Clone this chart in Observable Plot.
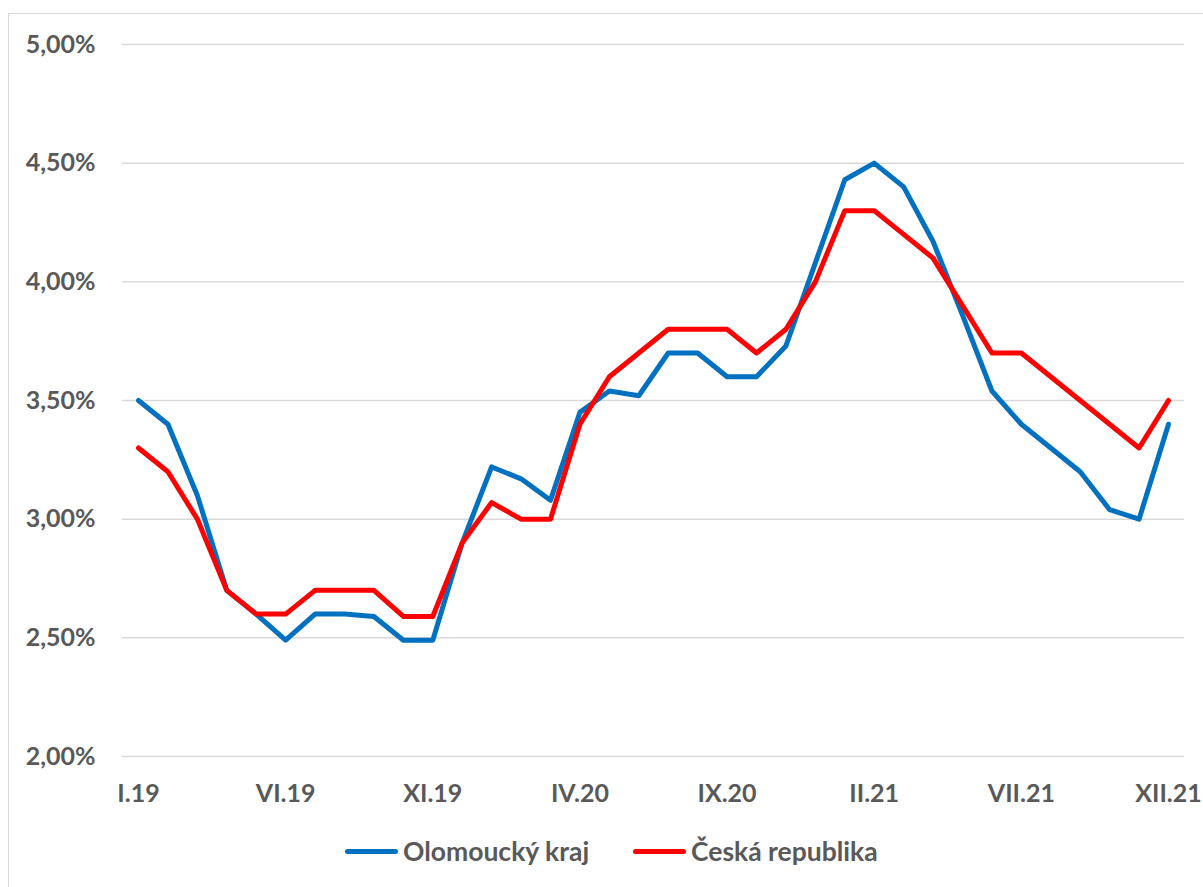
<!DOCTYPE html>
<html>
<head>
<meta charset="utf-8">
<script src="https://cdn.jsdelivr.net/npm/d3@7"></script>
<script src="https://cdn.jsdelivr.net/npm/@observablehq/plot@0.6"></script>
<style>
  html, body { margin: 0; padding: 0; background: #fff; }
  #wrap { position: relative; width: 1203px; height: 887px; overflow: hidden; font-family: Lato, "DejaVu Sans", sans-serif; }
  #frame { position: absolute; left: 8px; top: 13px; width: 1300px; height: 1000px; border-left: 1.5px solid #d9d9d9; border-top: 1.5px solid #d9d9d9; box-sizing: border-box; }
  #chart { position: absolute; left: 0; top: 0; }
  #legend { position: absolute; left: 0; top: 826px; width: 1203px; height: 50px; color: #595959; font-weight: bold; font-size: 26.5px; }
  .item { position: absolute; top: 0; height: 50px; display: flex; align-items: center; }
  .swatch { display: inline-block; width: 53px; height: 5px; border-radius: 3px; margin-right: 5px; }
</style>
</head>
<body>
<div id="wrap">
  <div id="frame"></div>
  <div id="chart"></div>
  <div id="legend"></div>
</div>
<script>
const months = [
  "I.19","II.19","III.19","IV.19","V.19","VI.19","VII.19","VIII.19","IX.19","X.19","XI.19","XII.19",
  "I.20","II.20","III.20","IV.20","V.20","VI.20","VII.20","VIII.20","IX.20","X.20","XI.20","XII.20",
  "I.21","II.21","III.21","IV.21","V.21","VI.21","VII.21","VIII.21","IX.21","X.21","XI.21","XII.21"
];
const olomoucky = [
  3.50,3.40,3.10,2.70,2.60,2.49,2.60,2.60,2.59,2.49,2.49,2.90,
  3.22,3.17,3.08,3.45,3.54,3.52,3.70,3.70,3.60,3.60,3.73,4.08,
  4.43,4.50,4.40,4.17,3.86,3.54,3.40,3.30,3.20,3.04,3.00,3.40
];
const ceska = [
  3.30,3.20,3.00,2.70,2.60,2.60,2.70,2.70,2.70,2.59,2.59,2.90,
  3.07,3.00,3.00,3.40,3.60,3.70,3.80,3.80,3.80,3.70,3.80,4.00,
  4.30,4.30,4.20,4.10,3.90,3.70,3.70,3.60,3.50,3.40,3.30,3.50
];
const seriesNames = ["Olomoucký kraj", "Česká republika"];
const seriesColors = ["#0070C0", "#FF0000"];
const xTicks = ["I.19","VI.19","XI.19","IV.20","IX.20","II.21","VII.21","XII.21"];
const yTicks = [2.0, 2.5, 3.0, 3.5, 4.0, 4.5, 5.0];

const data = [];
months.forEach((m, i) => data.push({month: m, value: olomoucky[i], series: seriesNames[0]}));
months.forEach((m, i) => data.push({month: m, value: ceska[i], series: seriesNames[1]}));

const fmt = d => d.toFixed(2).replace(".", ",") + "%";

const chart = Plot.plot({
  width: 1203,
  height: 820,
  marginLeft: 122,
  marginRight: 19,
  marginTop: 44,
  marginBottom: 64,
  insetLeft: 16,
  insetRight: 16,
  style: {fontFamily: "Lato, sans-serif", fontSize: "25px", fontWeight: "bold", color: "#595959", background: "transparent", overflow: "visible"},
  x: {type: "point", domain: months, padding: 0, round: false},
  y: {domain: [2, 5]},
  color: {domain: seriesNames, range: seriesColors},
  marks: [
    Plot.gridY(yTicks, {stroke: "#d9d9d9", strokeOpacity: 1, strokeWidth: 1.5}),
    Plot.axisY(yTicks, {tickSize: 0, tickPadding: 27, tickFormat: fmt, label: null}),
    Plot.axisX(xTicks, {tickSize: 0, tickPadding: 28, label: null}),
    Plot.line(data, {x: "month", y: "value", z: "series", stroke: "series", strokeWidth: 5, strokeLinejoin: "round", strokeLinecap: "round"})
  ]
});
document.getElementById("chart").appendChild(chart);

const legend = document.getElementById("legend");
const lefts = [345, 633];
seriesNames.forEach((name, i) => {
  const item = document.createElement("div");
  item.className = "item";
  item.style.left = lefts[i] + "px";
  const sw = document.createElement("span");
  sw.className = "swatch";
  sw.style.background = seriesColors[i];
  const tx = document.createElement("span");
  tx.textContent = name;
  item.appendChild(sw);
  item.appendChild(tx);
  legend.appendChild(item);
});
</script>
</body>
</html>
